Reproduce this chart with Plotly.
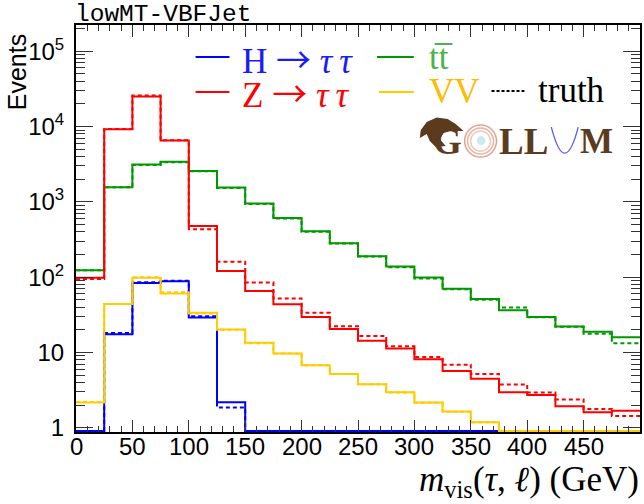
import math
import plotly.graph_objects as go

# ---------------- data ----------------
bin_edges = [0, 25, 50, 75, 100, 125, 150, 175, 200, 225, 250, 275, 300, 325, 350, 375, 400, 425, 450, 475, 500]

ztt_reco = [98, 9230, 25100, 6540, 480, 121, 65.8, 43.8, 29.7, 20.6, 14.3, 11.3, 8.15, 5.7, 4.47, 2.97, 2.73, 1.94, 1.61, 1.68]
ztt_truth = [95, 9300, 25800, 6600, 434, 160, 85, 52, 33.6, 22.3, 16.6, 12.1, 8.7, 6.9, 5.2, 3.76, 2.94, 2.38, 1.78, 1.43]

ttbar_reco = [124, 1560, 3140, 3400, 2580, 1555, 952, 613, 408, 283, 190, 139, 99, 70, 51.5, 36.5, 29.7, 22.1, 18.8, 16.0]
ttbar_truth = [124, 1560, 3100, 3350, 2550, 1530, 940, 600, 400, 280, 188, 136, 96, 69, 50, 39.6, 29.5, 22.0, 17.7, 13.3]

htt_reco = [0, 17.5, 84, 88.5, 29.2, 2.19, 0, 0, 0, 0, 0, 0, 0, 0, 0, 0, 0, 0, 0, 0]
htt_truth = [0, 18.2, 86, 90, 30.3, 1.86, 0, 0, 0, 0, 0, 0, 0, 0, 0, 0, 0, 0, 0, 0]

vv_reco = [2.17, 44.2, 98, 60.7, 33.6, 20.2, 13.5, 9.7, 6.8, 5.2, 3.8, 2.97, 2.17, 1.65, 1.19, 0, 0, 0, 0, 0]
vv_truth = [2.2, 44, 100, 63, 33, 20, 13.3, 9.7, 6.8, 5.2, 3.8, 2.95, 2.15, 1.63, 1.19, 0, 0, 0, 0, 0]

x_tick_vals = [0, 50, 100, 150, 200, 250, 300, 350, 400, 450]
x_tick_text = ["0", "50", "100", "150", "200", "250", "300", "350", "400", "450"]
y_tick_vals = [1, 10, 100, 1000, 10000, 100000]
y_tick_text = ["1", "10", "10<sup>2</sup>", "10<sup>3</sup>", "10<sup>4</sup>", "10<sup>5</sup>"]

# ---------------- style ----------------
C_H = "#0000ff"
C_Z = "#ff0000"
C_TT = "#009900"
C_VV = "#ffcc00"
BROWN = "#5c3a1e"

W, H = 644, 504
L, R, T, B = 76, 642, 25, 431.7
Y_MIN = 0.88
Y_MAX_LOG = 5.349
FLOOR = 0.91  # empty bins drawn along the bottom of the frame


def px(x):
    return (x - L) / (R - L)


def py(y):
    return (B - y) / (B - T)


def step(vals):
    ys = [v if v > 0 else FLOOR for v in vals]
    return bin_edges, ys + [ys[-1]]


fig = go.Figure()

series = [
    (ttbar_reco, ttbar_truth, C_TT),
    (ztt_reco, ztt_truth, C_Z),
    (htt_reco, htt_truth, C_H),
    (vv_reco, vv_truth, C_VV),
]
for reco, truth, col in series:
    xs, ys = step(reco)
    fig.add_trace(go.Scatter(x=xs, y=ys, mode="lines", line=dict(color=col, width=2, shape="hv"),
                             showlegend=False, hoverinfo="skip"))
    xs, ys = step(truth)
    fig.add_trace(go.Scatter(x=xs, y=ys, mode="lines",
                             line=dict(color=col, width=2, shape="hv", dash="4px,3px"),
                             showlegend=False, hoverinfo="skip"))

sans = "Liberation Sans, Arial, sans-serif"
tickfont = dict(family=sans, size=24, color="black")

fig.update_xaxes(
    range=[0, 500], showline=True, linecolor="black", linewidth=2, mirror="allticks",
    ticks="inside", ticklen=12, tickwidth=1, tickcolor="#333",
    tickvals=x_tick_vals, showticklabels=False,
    minor=dict(ticks="inside", ticklen=6, tickwidth=1, tickcolor="#333", dtick=10),
    showgrid=False, zeroline=False,
)
fig.update_yaxes(
    type="log", range=[math.log10(Y_MIN), Y_MAX_LOG], showline=True, linecolor="black", linewidth=2,
    mirror="allticks", ticks="inside", ticklen=17, tickwidth=1, tickcolor="#333",
    tickvals=y_tick_vals, ticktext=y_tick_text, tickfont=tickfont, ticklabelstandoff=5,
    minor=dict(ticks="inside", ticklen=9, tickwidth=1, tickcolor="#333", dtick="D1"),
    showgrid=False, zeroline=False,
)

serif = "Liberation Serif, Times New Roman, serif"
annotations = []
shapes = []

# x tick labels placed on the x axis scale
for v, t in zip(x_tick_vals, x_tick_text):
    annotations.append(dict(x=v, y=py(446.5), xref="x", yref="paper", text=t, showarrow=False,
                            xanchor="center", yanchor="middle", font=tickfont))


def text(x, y, s, size, color, family=serif, xanchor="left", **kw):
    annotations.append(dict(x=px(x), y=py(y), xref="paper", yref="paper", text=s, showarrow=False,
                            xanchor=xanchor, yanchor="middle",
                            font=dict(family=family, size=size, color=color), **kw))


def hline(x0, x1, y, color, dash=None):
    ln = dict(color=color, width=2)
    if dash:
        ln["dash"] = dash
    shapes.append(dict(type="line", xref="paper", yref="paper", x0=px(x0), x1=px(x1), y0=py(y), y1=py(y), line=ln))


# title
text(73, 14.5, "lowMT-VBFJet", 24.5, "black", family="Liberation Mono, Courier New, monospace")
# axis titles
text(17, 72, "Events", 25, "black", family=sans, xanchor="center", textangle=-90)
text(643, 481, "<i>m</i><sub>vis</sub>(<i>τ</i>, <i>ℓ</i>) (GeV)", 35, "black", xanchor="right")

# legend
LS = 35
ARROW = "<span style=\"font-family:'Noto Sans CJK JP'\">→</span>"
TAUTAU = "<i>τ\u2009τ</i>"
hline(196, 230, 57, C_H)
text(241, 57, f"H {ARROW} {TAUTAU}", LS, "#1a1aff")
hline(378, 415, 57, C_TT)
text(428, 57, "tt\u0305", LS, "#4db34d")
hline(196, 230, 92, C_Z)
text(241, 91, f"Z {ARROW} {TAUTAU}", LS, C_Z)
hline(380, 415, 92, C_VV)
text(428, 91, "VV", LS, "#ffbb00")
hline(493, 526, 91, "black", dash="3px,2px")
text(538, 90, "truth", LS, "black")

# GOLLUM logo
logo_font = "Liberation Serif, Times New Roman, serif"
text(432, 141, "<b>G</b>", 37, BROWN, family=logo_font)
text(498, 141, "<b>LL</b>", 37, BROWN, family=logo_font)
text(580, 141, "<b>M</b>", 35, BROWN, family=logo_font)
# detector-style "O"
for r, col in [(16, "#e6a08e"), (13, "#eab4a6"), (10, "#f0c8bc")]:
    shapes.append(dict(type="circle", xref="paper", yref="paper", x0=px(482 - r), x1=px(482 + r),
                       y0=py(141 + r), y1=py(141 - r), line=dict(color=col, width=1.5)))
shapes.append(dict(type="circle", xref="paper", yref="paper", x0=px(478), x1=px(487), y0=py(145), y1=py(136),
                   fillcolor="#cfe9ef", line=dict(width=0)))
# parabola "U"
shapes.append(dict(type="path", xref="paper", yref="paper",
                   path=f"M {px(553)},{py(127)} Q {px(566.5)},{py(179)} {px(580)},{py(127)}",
                   line=dict(color="#5a5af0", width=1.3)))
# hat
hat = [(422, 130), (428, 122), (438, 117.5), (449, 119), (457, 124), (465, 131), (452, 131), (445, 133),
       (441, 139), (447, 146), (437, 147), (431, 141), (428, 134), (421, 138)]
path = "M " + " L ".join(f"{px(a)},{py(b)}" for a, b in hat) + " Z"
shapes.append(dict(type="path", xref="paper", yref="paper", path=path, fillcolor=BROWN, line=dict(width=0)))

fig.update_layout(
    width=W, height=H, margin=dict(l=L, r=W - R, t=T, b=H - B),
    paper_bgcolor="white", plot_bgcolor="white",
    annotations=annotations, shapes=shapes, showlegend=False,
)

fig.write_html("out.html")
